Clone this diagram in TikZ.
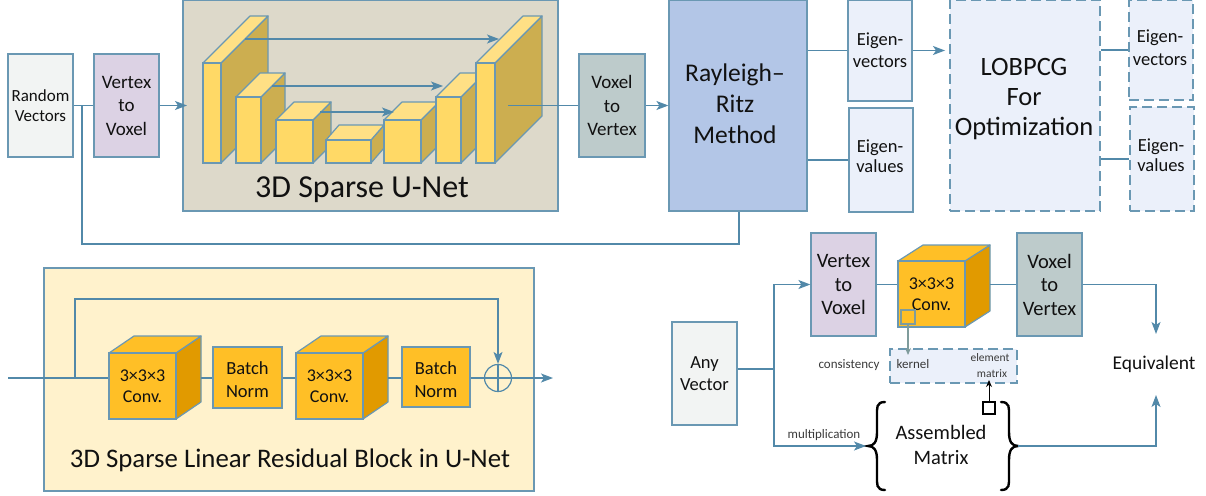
\documentclass[tikz,border=0pt]{standalone}
\usepackage{fontspec}
\setmainfont{Carlito}
\usetikzlibrary{arrows.meta}
\definecolor{edge}{HTML}{6A98B3}
\definecolor{wire}{HTML}{5289A9}
\definecolor{ink}{HTML}{111111}
\definecolor{greyink}{HTML}{3A3A3A}
\definecolor{panelgrey}{HTML}{DDD9CA}
\definecolor{panelcream}{HTML}{FFF2CC}
\definecolor{randfill}{HTML}{F2F4F3}
\definecolor{lilac}{HTML}{DCD2E4}
\definecolor{sage}{HTML}{BDCBCB}
\definecolor{rrblue}{HTML}{B3C6E7}
\definecolor{pale}{HTML}{EBF0FA}
\definecolor{yfront}{HTML}{FFD966}
\definecolor{ytop}{HTML}{FFE085}
\definecolor{yside}{HTML}{CCAE50}
\definecolor{ofront}{HTML}{FFBF26}
\definecolor{oside}{HTML}{E19A00}
\definecolor{kernelline}{HTML}{7F9C9C}
\newcommand{\fs}[2]{\fontsize{#1}{#2}\selectfont}
\newcommand{\boxnode}[7]{%
  \node[boxbase,#6,minimum width={(#4-#2)*1pt},minimum height={(#5-#3)*1pt}] (#1) at ({(#2+#4)/2},{(#3+#5)/2}) {#7};}
% name x1 x2 ytop ybot offset front side
\newcommand{\cuboid}[8]{%
  \path[facet,fill=#8] (#3,#4) -- ++(#6) -- ++(0,#5-#4) -- (#3,#5) -- cycle;
  \path[facet,fill=\topcol] (#2,#4) -- ++(#6) -- ++(#3-#2,0) -- (#3,#4) -- cycle;
  \node[boxbase,fill=#7,minimum width={(#3-#2)*1pt},minimum height={(#5-#4)*1pt},font=\fs{18}{21.5},align=center] (#1) at ({(#2+#3)/2},{(#4+#5)/2}) {\cubetext};
  \coordinate (#1r) at ([shift={(#6)}]#3,{(#4+#5)/2});}
\def\topcol{ytop}\def\cubetext{}
\tikzset{
  boxbase/.style={draw=edge,line width=1.2pt,inner sep=0pt,align=center,text=ink},
  facet/.style={draw=edge,line width=1.2pt,line join=round},
  dashedbox/.style={dash pattern=on 10pt off 5pt},
  wireline/.style={draw=wire,line width=1.2pt},
  flow/.style={wireline,-{Stealth[length=12pt,width=9pt,inset=3pt]}},
  txt/.style={inner sep=0pt,align=center,text=ink},
  small/.style={inner sep=0pt,align=center,text=greyink,font=\fs{13}{15}},
  brace/.style={draw=black,line width=2.4pt,line cap=round},
}
\begin{document}
\begin{tikzpicture}[x=1pt,y=-1pt]
\useasboundingbox (0,0) rectangle (1206,495);
% panels
\boxnode{unet}{183}{0}{558}{211}{fill=panelgrey}{}
\boxnode{resblock}{44}{268}{534}{491}{fill=panelcream}{}
% top row boxes
\boxnode{rand}{8}{54}{73}{157}{fill=randfill,font=\fs{17}{20}}{Random\\Vectors}
\boxnode{vtv}{94}{54}{159}{157}{fill=lilac,font=\fs{19}{23.5}}{Vertex\\to\\Voxel}
\boxnode{vxv}{579}{54}{645}{157}{fill=sage,font=\fs{19}{23.5}}{Voxel\\to\\Vertex}
\boxnode{rr}{669}{0}{807}{211}{fill=rrblue}{}
\node[txt,font=\fs{25.5}{31}] (rrtxt) at (735,103.5) {Rayleigh–\\Ritz\\Method};
\boxnode{evec}{848}{0}{912}{101}{fill=pale,font=\fs{18.5}{22}}{Eigen-\\vectors}
\boxnode{eval}{849}{108}{913}{212}{fill=pale}{}
\node[txt,font=\fs{18.5}{20.5}] (evaltxt) at (880,156) {Eigen-\\values};
\boxnode{lob}{950}{0}{1100}{211}{fill=pale,dashedbox}{}
\node[txt,font=\fs{26.5}{30}] (lobtxt) at (1024,99) {LOBPCG\\For\\Optimization};
\boxnode{evecb}{1129}{0}{1193}{100}{fill=pale,dashedbox}{}
\node[txt,font=\fs{18.5}{23}] (evecbtxt) at (1160,48) {Eigen-\\vectors};
\boxnode{evalb}{1130}{107}{1194}{211}{fill=pale,dashedbox}{}
\node[txt,font=\fs{18.5}{20.5}] (evalbtxt) at (1161,155) {Eigen-\\values};
% U-Net cuboids
\cuboid{u1}{203}{221}{63}{163}{47,-47}{yfront}{yside}
\cuboid{u2}{236}{261}{97}{163}{24,-24}{yfront}{yside}
\cuboid{u3}{276}{313}{120}{163}{18,-18}{yfront}{yside}
\cuboid{u4}{326}{371}{140}{163}{13,-15}{yfront}{yside}
\cuboid{u5}{384}{421}{120}{163}{18,-18}{yfront}{yside}
\cuboid{u6}{436}{461}{97}{163}{24,-24}{yfront}{yside}
\cuboid{u7}{476}{495}{63}{163}{47,-47}{yfront}{yside}
\node[txt,font=\fs{32}{36}] (unettxt) at (362,190) {3D Sparse U-Net};
% skip arrows
\coordinate (s1a) at (245,39); \coordinate (s1b) at (499,39);
\coordinate (s2a) at (272,86); \coordinate (s2b) at (443,86);
\coordinate (s3a) at (320,112); \coordinate (s3b) at (394,112);
\draw[flow] (s1a) -- (s1b);
\draw[flow] (s2a) -- (s2b);
\draw[flow] (s3a) -- (s3b);
% top connectors
\coordinate (unetin) at (187,105.5);
\coordinate (unetout) at (508,105.5);
\coordinate (fbsplit) at (82,105.5);
\coordinate (fbcorner) at (82,244);
\coordinate (rrfoot) at (739,244);
\coordinate (lobin) at (945,50.5);
\draw[wireline] (rand.east) -- (vtv.west);
\draw[flow] (vtv.east) -- (unetin);
\draw[wireline] (unetout) -- (vxv.west);
\draw[flow] (vxv.east) -- (rr.west |- vxv.east);
\draw[wireline] (fbsplit) -- (fbcorner) -- (rrfoot) -- (rr.south -| rrfoot);
\draw[wireline] (rr.east |- evec.east) -- (evec.west);
\draw[wireline] (rr.east |- eval.east) -- (eval.west);
\draw[flow] (evec.east) -- (lobin);
\draw[wireline] (lob.east |- evecb.east) -- (evecb.west);
\draw[wireline] (lob.east |- evalb.east) -- (evalb.west);
% residual block
\def\topcol{ofront}
\def\cubetext{3×3×3\\Conv.}
\cuboid{c1}{109}{176}{353}{419}{25,-17}{ofront}{oside}
\cuboid{c2}{296}{363}{353}{419}{25,-17}{ofront}{oside}
\boxnode{b1}{213}{347}{282}{408}{fill=ofront}{}
\node[txt,font=\fs{18.5}{23}] (b1txt) at (247.5,380) {Batch\\Norm};
\boxnode{b2}{402}{347}{470}{407}{fill=ofront}{}
\node[txt,font=\fs{18.5}{23}] (b2txt) at (436,380) {Batch\\Norm};
\node[draw=wire,line width=1.2pt,circle,minimum size=27pt,inner sep=0pt] (sum) at (498,378) {};
\node[txt,font=\fs{26.8}{30}] (restxt) at (290,460) {3D Sparse Linear Residual Block in U-Net};
\coordinate (resin) at (8,378);
\coordinate (ressplit) at (75,378);
\coordinate (restop) at (75,299);
\coordinate (resout) at (553,378);
\draw[wireline] (resin) -- (c1.west |- resin);
\draw[wireline] (c1r |- resin) -- (b1.west |- resin);
\draw[wireline] (b1.east |- resin) -- (c2.west |- resin);
\draw[wireline] (c2r |- resin) -- (b2.west |- resin);
\draw[flow] (b2.east |- resin) -- (resout);
\draw[flow] (ressplit) -- (restop) -| (sum.north);
\draw[wireline] (sum.north) -- (sum.south);
% lower right
\boxnode{any}{672}{322}{737}{425}{fill=randfill,font=\fs{18.5}{22}}{Any\\Vector}
\boxnode{vtvb}{811}{233}{876}{336}{fill=lilac,font=\fs{20.5}{23.5}}{Vertex\\to\\Voxel}
\boxnode{vxvb}{1017}{233}{1082}{336}{fill=sage,font=\fs{20.5}{23.5}}{Voxel\\to\\Vertex}
\def\cubetext{3×3×3\\Conv.}
\cuboid{c3}{898}{965}{261}{327}{25,-16}{ofront}{oside}
\boxnode{cons}{890}{349}{1017}{383}{fill=pale,dashedbox}{}
\node[small] (constxt) at (849,365) {consistency};
\node[small] (kerneltxt) at (913,364) {kernel};
\node[small,font=\fs{11.5}{15}] (elemtxt) at (990,366) {element\\[1pt]\hspace*{4pt}matrix};
\boxnode{ksq}{901}{310}{915}{324}{draw=kernelline,fill=ofront}{}
\boxnode{esq}{983}{402}{995}{414}{draw=black,fill=white}{}
\node[txt,font=\fs{20.5}{25}] (asm) at (941,445) {Assembled\\Matrix};
\node[small] (multxt) at (824,435) {multiplication};
\draw[brace] (885,402) .. controls (876,402) and (877,408) .. (877,416) -- (877,432) .. controls (877,442) and (874,446) .. (868,446) .. controls (874,446) and (877,450) .. (877,460) -- (877,476) .. controls (877,484) and (876,490) .. (885,490);
\draw[brace] (1001,402) .. controls (1010,402) and (1009,408) .. (1009,416) -- (1009,432) .. controls (1009,442) and (1012,446) .. (1018,446) .. controls (1012,446) and (1009,450) .. (1009,460) -- (1009,476) .. controls (1009,484) and (1010,490) .. (1001,490);
\node[txt,font=\fs{19.5}{22}] (equiv) at (1154,364) {Equivalent};
\coordinate (anyx) at (774,369);
\coordinate (bracel) at (866,446);
\coordinate (bracer) at (1018,446);
\coordinate (eqtop) at (1156,334);
\coordinate (eqbot) at (1156,395);
\coordinate (kerneltip) at (908,355);
\coordinate (elemtip) at (989,380);
\draw[wireline] (any.east |- anyx) -- (anyx);
\draw[flow] (anyx) |- (vtvb.west);
\draw[flow] (anyx) |- (bracel);
\draw[wireline] (vtvb.east) -- (c3.west |- vtvb.east);
\draw[wireline] (c3r |- vtvb.east) -- (vxvb.west);
\draw[flow] (vxvb.east) -| (eqtop);
\draw[flow] (bracer) -| (eqbot);
\draw[draw=kernelline,line width=1.2pt,-{Stealth[length=7pt,width=6pt]}] (ksq.south) -- (kerneltip);
\draw[draw=black,line width=1pt,-{Stealth[length=7pt,width=6pt]}] (esq.north) -- (elemtip);
\end{tikzpicture}
\end{document}
